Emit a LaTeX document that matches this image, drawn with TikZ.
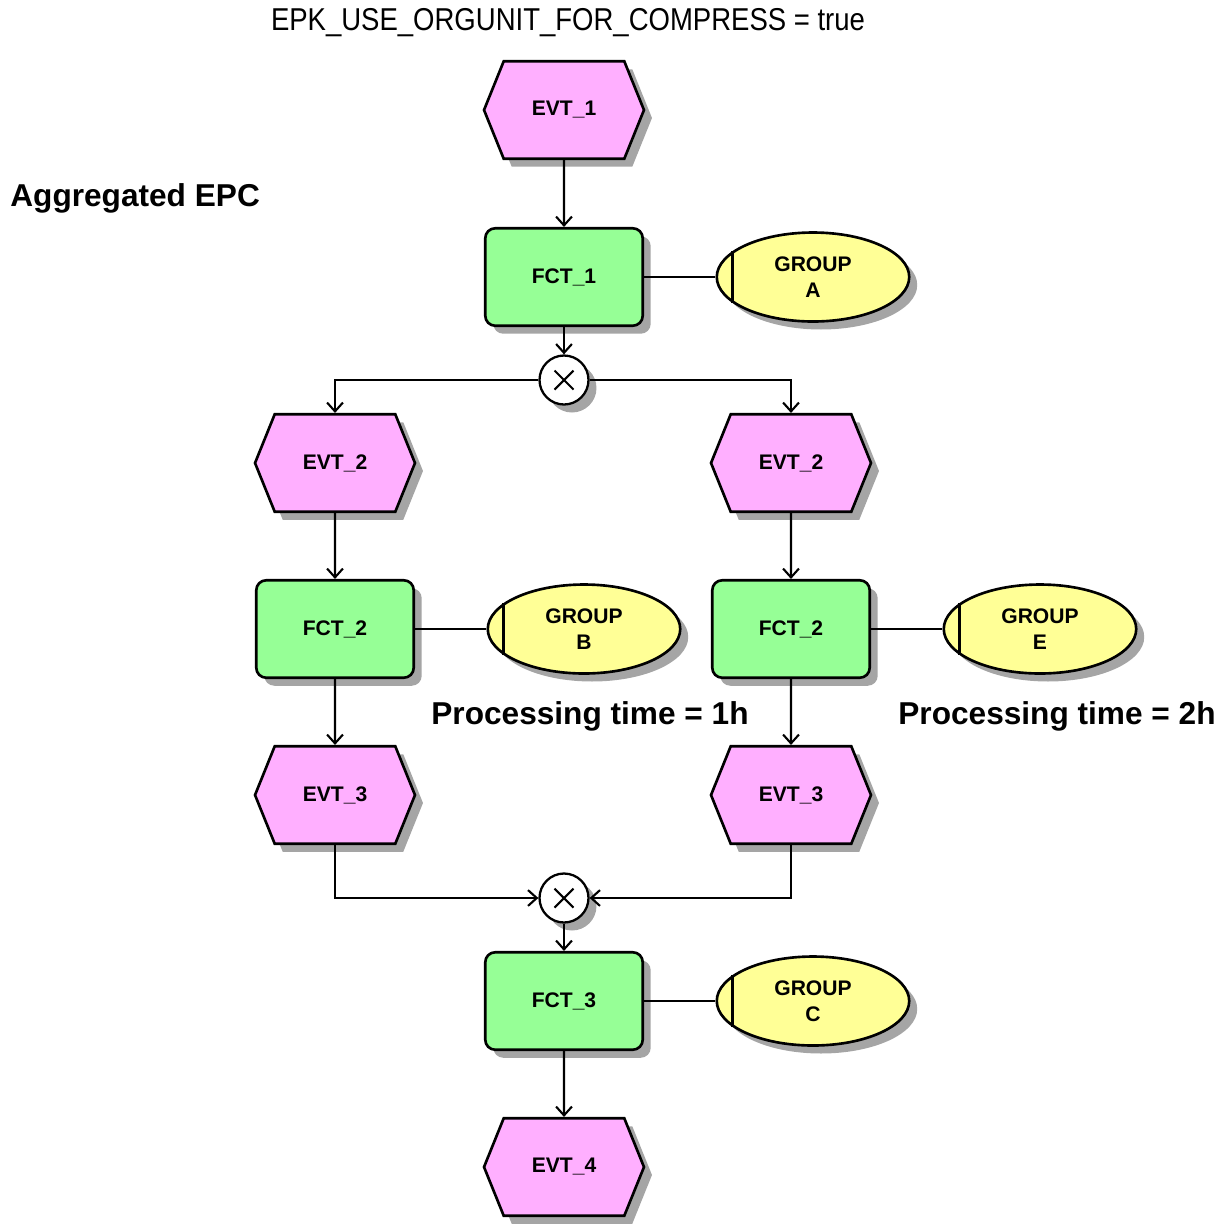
\documentclass[tikz,border=0pt]{standalone}
\usepackage{fontspec}
\setmainfont{Liberation Sans}
\usepackage{xcolor}
\usepackage{tikz}
\usetikzlibrary{shapes.symbols,shapes.geometric,shadows,arrows.meta,positioning}

\definecolor{evtpink}{RGB}{255,175,255}
\definecolor{fctgreen}{RGB}{150,255,150}
\definecolor{orgyellow}{RGB}{255,255,150}
\definecolor{shadowgray}{RGB}{165,165,165}

\tikzset{
    epcshadow/.style={drop shadow={shadow xshift=0.16cm, shadow yshift=-0.16cm, fill=shadowgray, opacity=1}},
    evt/.style={signal, signal to=west and east, signal pointer angle=136, draw, line width=1.5pt,
        fill=evtpink, minimum width=3.2cm, minimum height=1.95cm, inner sep=0pt, epcshadow,
        font=\bfseries\fontsize{12}{14}\selectfont},
    fct/.style={rectangle, rounded corners=0.2cm, draw, line width=1.5pt, fill=fctgreen,
        minimum width=3.15cm, minimum height=1.95cm, epcshadow, font=\bfseries\fontsize{12}{14}\selectfont},
    org/.style={ellipse, draw, line width=1.5pt, fill=orgyellow, minimum width=3.85cm,
        minimum height=1.78cm, inner sep=0pt, epcshadow, align=center,
        font=\bfseries\fontsize{12}{15}\selectfont},
    xor/.style={circle, draw, line width=1.3pt, fill=white, minimum size=0.98cm, inner sep=0pt, epcshadow,
        path picture={
            \draw[line width=1.2pt] ([shift={(-0.19cm,-0.19cm)}]path picture bounding box.center) -- ([shift={(0.19cm,0.19cm)}]path picture bounding box.center);
            \draw[line width=1.2pt] ([shift={(-0.19cm,0.19cm)}]path picture bounding box.center) -- ([shift={(0.19cm,-0.19cm)}]path picture bounding box.center);
        }},
    flow/.style={line width=1.2pt, -{Straight Barb[length=5pt,width=9pt]}},
    link/.style={line width=1.2pt},
    heading/.style={font=\bfseries\fontsize{18}{20}\selectfont, inner sep=0pt},
}

\begin{document}
\begin{tikzpicture}[x=0.02cm, y=-0.02cm]
    \useasboundingbox (0,0) rectangle (1231,1225);

    \node [inner sep=0pt] (cfg) at (568,23) {\scalebox{0.87}[1]{\fontsize{18}{20}\selectfont EPK\_USE\_ORGUNIT\_FOR\_COMPRESS = true}};
    \node [heading, anchor=west] (agg) at (10,198) {Aggregated EPC};

    % start
    \node [evt] (e1) at (564,110) {EVT\_1};
    \node [fct] (f1) at (564,277) {FCT\_1};
    \node [org] (gA) at (813,277) {GROUP\\A};
    \node [xor] (x1) at (564,380) {};

    % left branch
    \node [evt] (e2l) at (335,463) {EVT\_2};
    \node [fct] (f2l) at (335,629) {FCT\_2};
    \node [org] (gB) at (584,629) {GROUP\\B};
    \node [heading] (t1) at (590,716) {Processing time = 1h};
    \node [evt] (e3l) at (335,795) {EVT\_3};

    % right branch
    \node [evt] (e2r) at (791,463) {EVT\_2};
    \node [fct] (f2r) at (791,629) {FCT\_2};
    \node [org] (gE) at (1040,629) {GROUP\\E};
    \node [heading] (t2) at (1057,716) {Processing time = 2h};
    \node [evt] (e3r) at (791,795) {EVT\_3};

    % end
    \node [xor] (x2) at (564,898) {};
    \node [fct] (f3) at (564,1001) {FCT\_3};
    \node [org] (gC) at (813,1001) {GROUP\\C};
    \node [evt] (e4) at (564,1167) {EVT\_4};

    \foreach \g in {gA,gB,gE,gC}
        \draw [line width=1.5pt] (\g.162) -- (\g.198);

    % control flow
    \draw [flow] (e1) -- (f1);
    \draw [flow] (f1) -- (x1);
    \draw [flow] (x1) -| (e2l);
    \draw [flow] (x1) -| (e2r);
    \draw [flow] (e2l) -- (f2l);
    \draw [flow] (f2l) -- (e3l);
    \draw [flow] (e2r) -- (f2r);
    \draw [flow] (f2r) -- (e3r);
    \draw [flow] (e3l) |- (x2);
    \draw [flow] (e3r) |- (x2);
    \draw [flow] (x2) -- (f3);
    \draw [flow] (f3) -- (e4);

    % org units
    \draw [link] (f1) -- (gA);
    \draw [link] (f2l) -- (gB);
    \draw [link] (f2r) -- (gE);
    \draw [link] (f3) -- (gC);
\end{tikzpicture}
\end{document}
